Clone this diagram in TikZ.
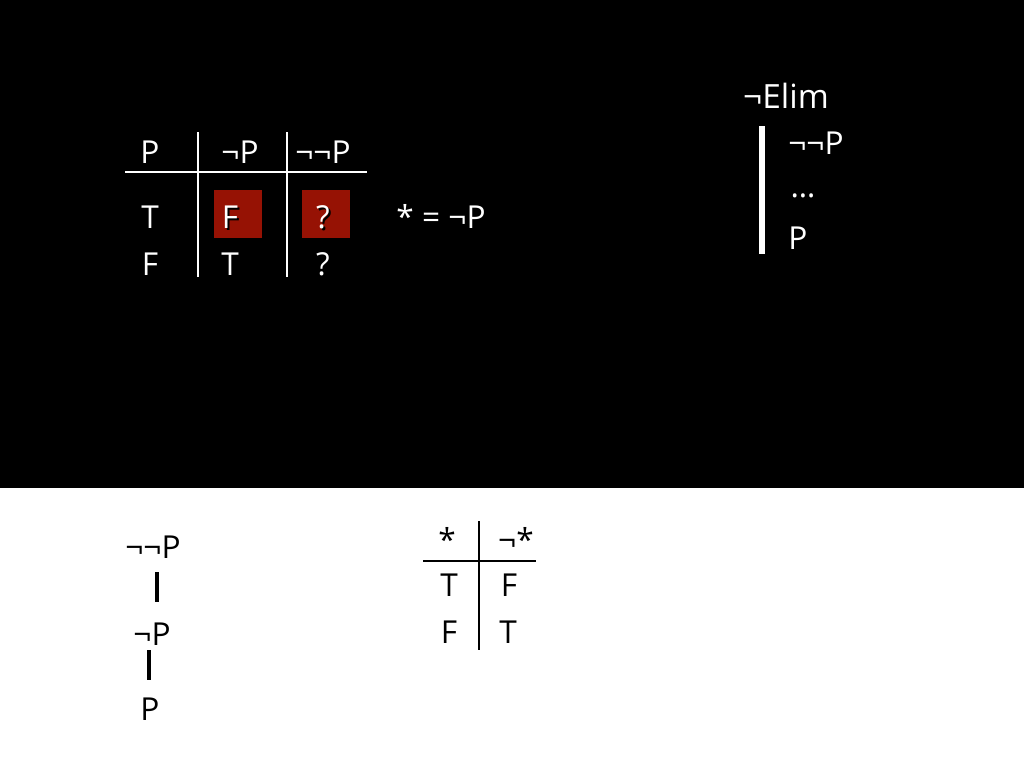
\documentclass[tikz,border=0pt]{standalone}
\usepackage{fontspec}
\setmainfont{Open Sans}
\begin{document}
\begin{tikzpicture}[
    x=0.02cm, y=-0.02cm,
    every node/.style={inner sep=0pt, font=\fontsize{18}{22}\selectfont},
    lit/.style={text=white},
    dim/.style={text=black},
    rule/.style={line width=1.3pt},
    bar/.style={line width=2.6pt},
    redcell/.style={fill=cellred, minimum width=0.96cm, minimum height=0.96cm}
]
\definecolor{cellred}{RGB}{150,18,4}
\useasboundingbox (0,0) rectangle (1024,768);
\fill[black] (0,0) rectangle (1024,488);
\fill[white] (0,488) rectangle (1024,768);

% truth table, top
\node[redcell] (cellF) at (238,214) {};
\node[redcell] (cellQ) at (326,214) {};
\node[lit] (hP) at (150,152) {P};
\node[lit] (hNP) at (240,152) {¬P};
\node[lit] (hNNP) at (323,152) {¬¬P};
\node[lit] (aT) at (150,217) {T};
\node[dim] at (232,219) {F};
\node[lit] (bF) at (230,217) {F};
\node[dim] at (325,219) {?};
\node[lit] (cQ) at (323,217) {?};
\node[lit] (aF) at (150,264) {F};
\node[lit] (bT) at (230,264) {T};
\node[lit] (cQ2) at (323,264) {?};
\coordinate (hl) at (125,172);
\coordinate (hr) at (367,172);
\draw[white, rule] (hl) -- (hr);
\draw[white, rule] (198,132) coordinate (v1t) -- (198,277) coordinate (v1b);
\draw[white, rule] (287,132) coordinate (v2t) -- (287,277) coordinate (v2b);
\node[lit] (star) at (441,216) {* = ¬P};

% rule box
\node[lit, font=\fontsize{19}{22}\selectfont] (elim) at (786,96) {¬Elim};
\node[lit, anchor=west] (prem) at (788,143) {¬¬P};
\node[lit] (dots) at (803,196) {\dots};
\node[lit, anchor=west] (concl) at (788,238) {P};
\draw[white, line width=3pt] (762,126) coordinate (bt) -- (762,254) coordinate (bb);

% chain, bottom left
\node[dim] (nnp) at (153,547) {¬¬P};
\node[dim] (np) at (152,634) {¬P};
\node[dim] (p) at (150,709) {P};
\draw[bar] (157,572) -- (157,602);
\draw[bar] (149,650) -- (149,680);

% negation table, bottom
\node[dim] (s) at (447,539) {*};
\node[dim] (ns) at (516,539) {¬*};
\node[dim] (sT) at (449,585) {T};
\node[dim] (nsF) at (509,585) {F};
\node[dim] (sF) at (449,632) {F};
\node[dim] (nsT) at (508,632) {T};
\draw[rule] (423,561) -- (536,561);
\draw[rule] (479,521) -- (479,650);
\end{tikzpicture}
\end{document}
